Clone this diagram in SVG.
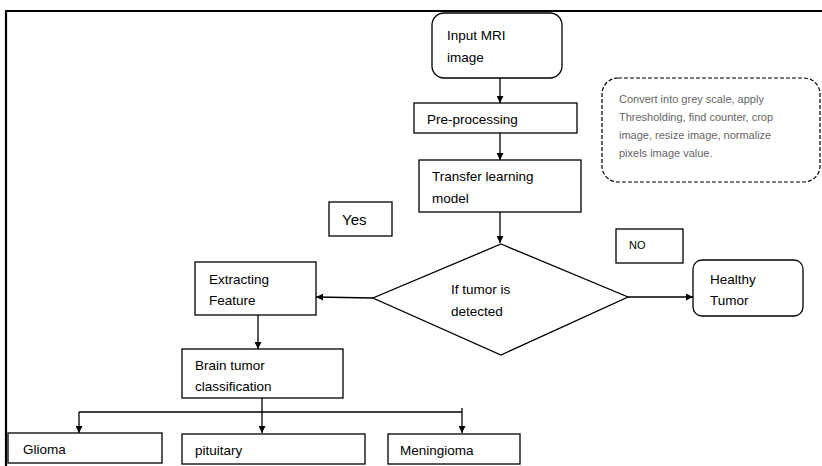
<svg xmlns="http://www.w3.org/2000/svg" width="822" height="466" viewBox="0 0 822 466">
<defs>
<marker id="ah" viewBox="0 0 10 10" refX="10" refY="5" markerWidth="7" markerHeight="7" markerUnits="userSpaceOnUse" orient="auto">
<path d="M0,0 L10,5 L0,10 z" fill="#000"/>
</marker>
<style>
.b{fill:#fff;stroke:#000;stroke-width:1.3}
.t{font-family:"Liberation Sans",Arial,sans-serif;font-size:13.5px;fill:#000}
.g{font-family:"Liberation Sans",Arial,sans-serif;font-size:11px;fill:#666}
.c{fill:none;stroke:#000;stroke-width:1.3}
</style>
</defs>
<rect width="822" height="466" fill="#fff"/>
<path d="M6,466 V11 H822" fill="none" stroke="#000" stroke-width="2.2"/>
<g id="connectors">
<path class="c" d="M500,78 V103" marker-end="url(#ah)"/>
<path class="c" d="M500,133 V160" marker-end="url(#ah)"/>
<path class="c" d="M500,212 V243" marker-end="url(#ah)"/>
<path class="c" d="M373,298 L316,297" marker-end="url(#ah)"/>
<path class="c" d="M628,297 L693,297" marker-end="url(#ah)"/>
<path class="c" d="M258,315 V349" marker-end="url(#ah)"/>
<path class="c" d="M262,398 V433" marker-end="url(#ah)" stroke-width="1.8"/>
<path class="c" d="M79,412 H462"/>
<path class="c" d="M79,412 V433" marker-end="url(#ah)"/>
<path class="c" d="M462,408 V433" marker-end="url(#ah)"/>
</g>
<g id="input">
<rect class="b" x="432" y="13" width="130" height="65" rx="12"/>
<text class="t" x="447" y="40">Input MRI</text>
<text class="t" x="447" y="62">image</text>
</g>
<g id="note">
<rect x="602" y="78" width="218" height="104" rx="16" fill="#fff" stroke="#000" stroke-width="1.2" stroke-dasharray="4,2"/>
<text class="g" x="619" y="103">Convert into grey scale, apply</text>
<text class="g" x="619" y="121">Thresholding, find counter, crop</text>
<text class="g" x="619" y="139">image, resize image, normalize</text>
<text class="g" x="619" y="157">pixels image value.</text>
</g>
<g id="preprocessing">
<rect class="b" x="414" y="103" width="163" height="30"/>
<text class="t" x="427" y="124">Pre-processing</text>
</g>
<g id="transfer">
<rect class="b" x="419" y="160" width="162" height="52"/>
<text class="t" x="432" y="181">Transfer learning</text>
<text class="t" x="432" y="203">model</text>
</g>
<g id="yes">
<rect class="b" x="329" y="202" width="63" height="34"/>
<text class="t" x="342" y="225" style="font-size:15px">Yes</text>
</g>
<g id="no">
<rect class="b" x="616" y="229" width="67" height="34"/>
<text class="t" x="629" y="249" style="font-size:11px">NO</text>
</g>
<g id="decision">
<path class="b" d="M501,244 L628,297 L501,355 L373,298 Z"/>
<text class="t" x="451" y="294">If tumor is</text>
<text class="t" x="451" y="316">detected</text>
</g>
<g id="healthy">
<rect class="b" x="693" y="260" width="110" height="56" rx="9"/>
<text class="t" x="710" y="284">Healthy</text>
<text class="t" x="710" y="305">Tumor</text>
</g>
<g id="extracting">
<rect class="b" x="195" y="262" width="121" height="53"/>
<text class="t" x="209" y="284">Extracting</text>
<text class="t" x="209" y="305">Feature</text>
</g>
<g id="classification">
<rect class="b" x="182" y="349" width="161" height="49"/>
<text class="t" x="195" y="370">Brain tumor</text>
<text class="t" x="195" y="391">classification</text>
</g>
<g id="glioma">
<rect class="b" x="8" y="433" width="154" height="30"/>
<text class="t" x="23" y="454">Glioma</text>
</g>
<g id="pituitary">
<rect class="b" x="182" y="434" width="183" height="30"/>
<text class="t" x="195" y="455">pituitary</text>
</g>
<g id="meningioma">
<rect class="b" x="388" y="434" width="132" height="30"/>
<text class="t" x="400" y="455">Meningioma</text>
</g>
</svg>
